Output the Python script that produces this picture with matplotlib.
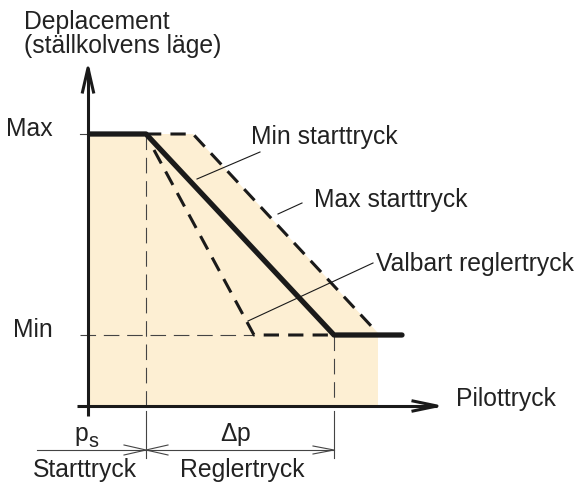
import matplotlib
matplotlib.use("Agg")
import matplotlib.pyplot as plt

plt.rcParams['font.family'] = ['Liberation Sans', 'DejaVu Sans']
plt.rcParams['mathtext.fontset'] = 'custom'
plt.rcParams['mathtext.rm'] = 'Liberation Sans'
plt.rcParams['mathtext.it'] = 'Liberation Sans:italic'

# schematic units: x = pilot pressure, y = displacement
y_max = 27.2
y_min = 7.1
p_s = 5.8          # start pressure
p_end = 24.6       # start + delta p

# thick curve (Min starttryck)
min_start_x = [0.2, p_s, p_end, 31.4]
min_start_y = [y_max, y_max, y_min, y_min]
# dashed curve (Max starttryck)
max_start_x = [p_s, 10.5, 28.5]
max_start_y = [y_max, y_max, 7.8]
# steep dashed curve (Valbart reglertryck)
valbart_x = [6.6, 16.6, 24.5]
valbart_y = [25.6, y_min, y_min]
# shaded working area
fill_x = [0, 0, 10.5, 29.0, 29.0]
fill_y = [0, y_max, y_max, 7.3, 0]

x_arrow = 34.9
y_arrow = 33.8
dim_y = -4.4
dim_left = -5.1

fill_col = '#fdefd3'
ink = '#1a1a1a'
thin = '#444444'
fs = 17.8

fig = plt.figure(figsize=(5.82, 4.82), dpi=100)
ax = fig.add_axes([0, 0, 1, 1])
ax.set_xlim(-8.8, 49.4)
ax.set_ylim(-7.6, 40.6)
ax.axis('off')


def chevron(tx, ty, dx, dy, length, half, **kw):
    # open arrowhead with tip at (tx, ty), pointing along (dx, dy)
    nx, ny = -dy, dx
    bx, by = tx - dx * length, ty - dy * length
    ax.plot([bx + nx * half, tx, bx - nx * half],
            [by + ny * half, ty, by - ny * half], **kw)


ax.fill(fill_x, fill_y, color=fill_col, lw=0, zorder=0)

# thin reference lines
ax.plot([p_s, p_s], [y_max, 0.0], color=thin, lw=0.8, dashes=(14, 7), zorder=1)
ax.plot([p_end, p_end], [y_min, 0.0], color=thin, lw=0.8, dashes=(14, 7), zorder=1)
ax.plot([-0.8, valbart_x[1]], [y_min, y_min], color=thin, lw=0.8, dashes=(14, 7), zorder=1)
ax.plot([-0.8, 0], [y_max, y_max], color=thin, lw=0.8, zorder=1)
ax.plot([p_s, p_s], [-0.5, -5.2], color=thin, lw=0.8)
ax.plot([p_end, p_end], [-0.5, -5.2], color=thin, lw=0.8)

# dimension line
ax.plot([dim_left, p_end], [dim_y, dim_y], color=thin, lw=0.8)
chevron(p_s, dim_y, 1, 0, 2.2, 0.5, color=thin, lw=0.8)
chevron(p_s, dim_y, -1, 0, 2.2, 0.5, color=thin, lw=0.8)
chevron(p_end, dim_y, 1, 0, 2.1, 0.4, color=thin, lw=0.8)

# axes
ax.plot([0, 0], [-1.0, y_arrow], color=ink, lw=2.2, solid_capstyle='butt', zorder=4)
ax.plot([-1.1, x_arrow], [0, 0], color=ink, lw=2.2, solid_capstyle='butt', zorder=4)
chevron(0, y_arrow, 0, 1, 2.4, 0.55, color=ink, lw=2.2, zorder=4)
chevron(x_arrow, 0, 1, 0, 2.4, 0.5, color=ink, lw=2.2, zorder=4)

# curves
ax.plot(valbart_x, valbart_y, color=ink, lw=2.2, dashes=(5, 3), zorder=3)
ax.plot(max_start_x, max_start_y, color=ink, lw=2.2, dashes=(5, 3), zorder=3)
ax.plot(min_start_x, min_start_y, color=ink, lw=3.8, solid_capstyle='round', zorder=3)

# leader lines
ax.plot([17.2, 10.9], [25.4, 22.7], color=ink, lw=0.8, zorder=3)
ax.plot([21.4, 19.0], [20.3, 19.2], color=ink, lw=0.8, zorder=3)
ax.plot([28.5, 16.0], [14.3, 8.5], color=ink, lw=0.8, zorder=3)

# texts
tc = '#222222'
ax.text(-6.4, 37.7, 'Deplacement', fontsize=fs, color=tc, va='baseline')
ax.text(-6.4, 35.3, '(ställkolvens läge)', fontsize=fs, color=tc, va='baseline')
ax.text(-3.5, 27.0, 'Max', fontsize=fs, color=tc, ha='right', va='baseline')
ax.text(-3.5, 6.9, 'Min', fontsize=fs, color=tc, ha='right', va='baseline')
ax.text(16.3, 26.2, 'Min starttryck', fontsize=fs, color=tc, va='baseline')
ax.text(22.6, 19.9, 'Max starttryck', fontsize=fs, color=tc, va='baseline')
ax.text(28.8, 13.5, 'Valbart reglertryck', fontsize=fs, color=tc, va='baseline')
ax.text(36.8, 0.0, 'Pilottryck', fontsize=fs, color=tc, va='baseline')
ax.text(0.0, -3.5, 'p', fontsize=fs, color=tc, ha='right', va='baseline')
ax.text(0.05, -4.1, 's', fontsize=fs * 0.8, color=tc, ha='left', va='baseline')
ax.text(14.8, -3.5, r'$\Delta$p', fontsize=fs, color=tc, ha='center', va='baseline')
ax.text(-0.3, -7.1, 'Starttryck', fontsize=fs, color=tc, ha='center', va='baseline')
ax.text(15.4, -7.1, 'Reglertryck', fontsize=fs, color=tc, ha='center', va='baseline')

fig.savefig('out.png', dpi=100, facecolor='white')
